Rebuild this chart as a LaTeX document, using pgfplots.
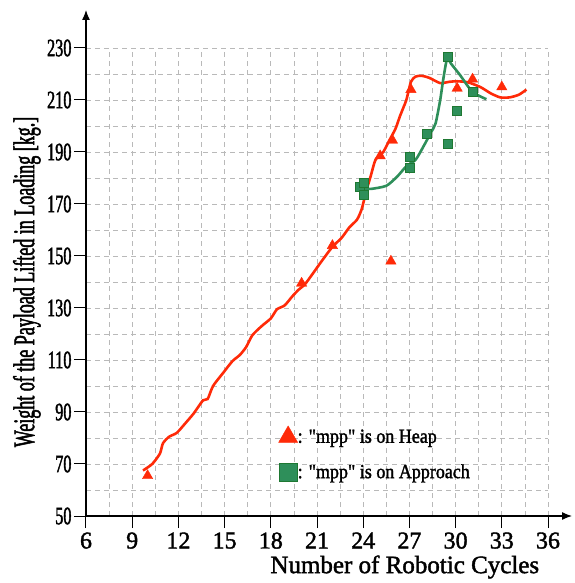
\documentclass[border=0pt]{standalone}
\usepackage{pgfplots}
\pgfplotsset{compat=1.18}
\usetikzlibrary{arrows.meta}
\usepackage{fontspec}
\setmainfont{Liberation Serif}[Ligatures=TeXOff, FakeBold=1.6]
\newfontfamily\ytickfont{Liberation Serif}[Ligatures=TeXOff, FakeStretch=0.65, FakeBold=1.6]
\newfontfamily\ylabfont{Liberation Serif}[Ligatures=TeXOff, FakeStretch=0.6, FakeBold=1.6]
\newfontfamily\legfont{Liberation Serif}[Ligatures=TeXOff, FakeStretch=0.9, FakeBold=1.6]
\definecolor{heapred}{RGB}{255,42,8}
\definecolor{appgreen}{RGB}{46,143,90}
\definecolor{appedge}{RGB}{30,120,50}
\pgfplotsset{dotlegend/.style={legend image code/.code={\draw[##1] plot coordinates {(0pt,0pt)};}}}
\begin{document}
\begin{tikzpicture}
\useasboundingbox (-86pt,-67pt) rectangle (488pt,516pt);
\begin{axis}[
    scale only axis,
    width=462pt, height=468pt,
    xmin=6, xmax=36, ymin=50, ymax=230,
    axis lines=left,
    x axis line style={-{Latex[length=10pt,width=8pt]}, shorten >=-24pt, line width=1.2pt},
    y axis line style={-{Latex[length=10pt,width=8pt]}, shorten >=-38pt, line width=1.2pt},
    xtick={6,9,...,36}, ytick={50,70,...,230},
    minor x tick num=1, minor y tick num=1,
    grid=both,
    grid style={gray!55, line width=0.8pt, dash pattern=on 5pt off 4pt},
    minor grid style={gray!55, line width=0.8pt, dash pattern=on 5pt off 4pt},
    tick align=outside, major tick length=12pt, minor tick length=0pt,
    tick style={black, line width=1pt},
    /pgf/number format/assume math mode=true,
    xticklabel style={font=\fontsize{24}{24}\selectfont, yshift=-1pt},
    yticklabel style={font=\ytickfont\fontsize{25}{25}\selectfont, xshift=1pt},
    xlabel={Number of Robotic Cycles},
    ylabel={Weight of the Payload Lifted in Loading [kg.]},
    xlabel style={font=\fontsize{25}{25}\selectfont, at={(axis description cs:0.69,-0.109)}, anchor=center},
    ylabel style={font=\ylabfont\fontsize{30}{30}\selectfont, at={(axis description cs:-0.128,0.5)}, anchor=center},
    legend style={at={(axis cs:18.3,85.5)}, anchor=north west, draw=none, fill=none,
        font=\legfont\fontsize{20}{20}\selectfont, row sep=16pt, nodes={inner xsep=0pt}},
    legend cell align=left,
    clip=false,
]
% fitted curve, heap
\addplot[heapred, line width=2.6pt, smooth, tension=0.4, forget plot] coordinates {
(9.7,67.5)(10.3,70)(10.8,74)(11.0,78)(11.4,80.5)(11.9,82)(12.5,86)(13.0,89.5)
(13.6,94.5)(13.9,95)(14.25,100)(14.9,105)(15.5,109.5)(16.0,112)(16.4,115)
(16.8,119.5)(17.4,123)(18.0,126)(18.4,129.5)(18.9,131)(19.4,134.5)(19.8,137)
(20.2,139)(20.7,143)(21.3,148)(22.0,153.5)(22.6,157)(23.1,161)(23.6,164)
(23.9,168)(24.2,175)(24.5,181)(24.8,187)(25.3,190)(25.7,194.5)(26.1,199)
(26.4,204)(26.8,210)(27.1,217)(27.4,219)(27.8,219.3)(28.3,218.5)(29.0,216.5)
(29.6,217)(30.1,217.2)(30.8,216.8)(31.6,215)(32.3,212.5)(32.9,211)(33.5,211)
(34.1,212)(34.6,214)};
% fitted curve, approach
\addplot[appgreen, line width=2.6pt, smooth, tension=0.4, forget plot] coordinates {
(23.9,176)(24.5,175.8)(25.5,177)(26.2,180.5)(26.8,184.5)(27.4,187)(27.9,192)
(28.4,197.5)(28.7,201)(29.0,210)(29.2,218)(29.45,226)(29.7,224)(30.3,219.5)
(30.9,214.5)(31.4,212)(32.0,210.3)};
% measured points
\addplot[only marks, mark=triangle*, mark size=6pt, heapred, forget plot] coordinates {
(10,65.5)(20,139.5)(22,154)(25.1,188.5)(25.9,194.5)(25.8,148)(27.1,214)
(30.1,214.5)(31.1,218)(33.0,215)};
\addplot[only marks, mark=square*, mark size=4.5pt, draw=appedge, fill=appgreen, forget plot] coordinates {
(23.8,176.5)(24.0,178)(24.05,173.5)(27.0,188)(27.0,184)(28.1,197)(29.5,226.5)
(29.5,193)(30.1,206)(31.1,213)};
\addlegendimage{only marks, mark=triangle*, mark size=11pt, heapred, dotlegend}
\addlegendentry{: "mpp" is on Heap}
\addlegendimage{only marks, mark=square*, mark size=9pt, draw=appedge, fill=appgreen, dotlegend}
\addlegendentry{: "mpp" is on Approach}
\end{axis}
\end{tikzpicture}
\end{document}
